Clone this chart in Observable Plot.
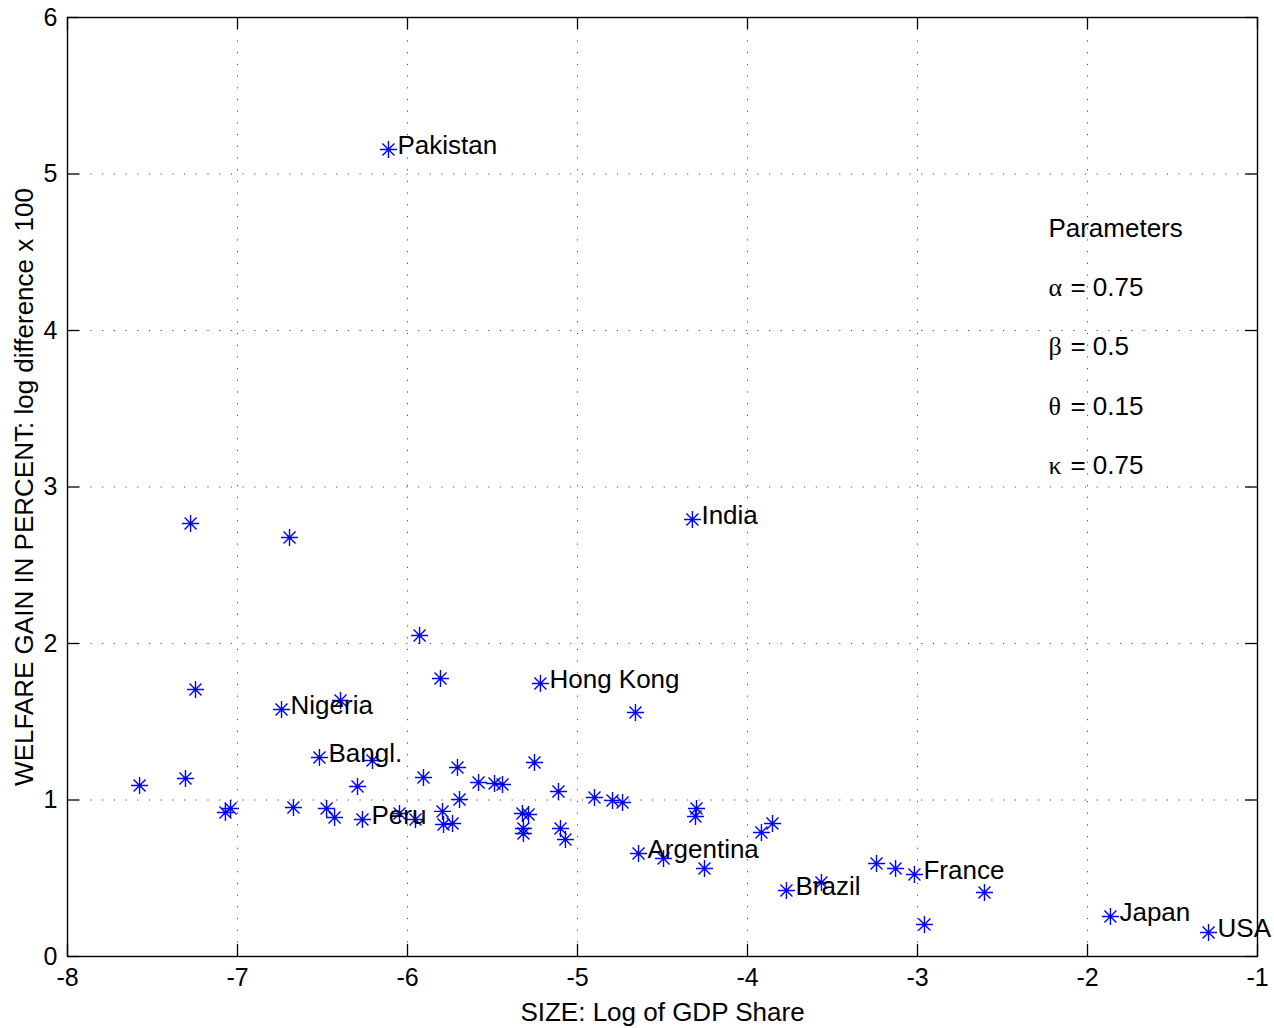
<!DOCTYPE html>
<html>
<head>
<meta charset="utf-8">
<script src="https://cdn.jsdelivr.net/npm/d3@7"></script>
<script src="https://cdn.jsdelivr.net/npm/@observablehq/plot@0.6"></script>
<style>
  html, body { margin: 0; padding: 0; background: #fff; }
  svg { display: block; }
</style>
</head>
<body>
<div id="chart"></div>
<script>
// ---- data ----
const countryNames = [
  "Pakistan", "India", "", "", "", "", "Hong Kong", "", "", "Nigeria",
  "", "Bangl.", "", "", "", "", "", "", "", "",
  "", "Peru", "", "", "", "", "", "", "", "",
  "", "", "", "", "", "", "", "", "", "",
  "", "", "", "", "", "", "Argentina", "", "",
  "", "", "Brazil", "", "", "", "France", "", "", "Japan",
  "USA"
];
const sizeLog = [
  -6.112, -4.324, -7.276, -6.694, -5.929, -5.806, -5.218, -7.247, -4.659, -6.741,
  -6.394, -6.518, -6.206, -7.576, -7.306, -7.071, -7.041, -6.671, -6.476, -6.429,
  -6.294, -6.265, -6.047, -5.953, -5.906, -5.794, -5.788, -5.735, -5.694, -5.706,
  -5.582, -5.488, -5.441, -5.253, -5.324, -5.288, -5.318, -5.318, -5.112, -5.100,
  -5.071, -4.900, -4.794, -4.735, -4.300, -4.306, -4.641, -4.494, -4.253,
  -3.918, -3.853, -3.771, -3.565, -3.241, -3.129, -3.018, -2.959, -2.606, -1.865,
  -1.288
];
const welfareGain = [
  5.157, 2.792, 2.767, 2.677, 2.051, 1.776, 1.744, 1.706, 1.559, 1.578,
  1.636, 1.272, 1.252, 1.093, 1.137, 0.920, 0.946, 0.952, 0.946, 0.888,
  1.086, 0.875, 0.914, 0.875, 1.144, 0.927, 0.843, 0.850, 1.003, 1.208,
  1.112, 1.105, 1.099, 1.240, 0.914, 0.907, 0.818, 0.786, 1.054, 0.818,
  0.748, 1.016, 0.997, 0.984, 0.946, 0.895, 0.658, 0.626, 0.562,
  0.792, 0.850, 0.422, 0.473, 0.594, 0.562, 0.524, 0.204, 0.409, 0.256,
  0.153
];
const xTicks = [-8, -7, -6, -5, -4, -3, -2, -1];
const yTicks = [0, 1, 2, 3, 4, 5, 6];
const xLabel = "SIZE: Log of GDP Share";
const yLabel = "WELFARE GAIN IN PERCENT: log difference x 100";
const paramTitle = "Parameters";
const paramSymbols = ["α", "β", "θ", "κ"];
const paramValues = ["0.75", "0.5", "0.15", "0.75"];

const points = sizeLog.map((x, i) => ({x, y: welfareGain[i], name: countryNames[i] || ""}));

// ---- annotation layout (data coords, as in the original text() calls) ----
const paramX = -2.23;
const paramTop = 4.65;
const paramStep = 0.378;
const titleRow = [{label: paramTitle, y: paramTop}];
const paramRows = paramSymbols.map((s, i) => ({label: "= " + paramValues[i], sym: s, y: paramTop - (i + 1) * paramStep}));

// MATLAB-style '*' marker: plus + cross
const matlabStar = {
  draw(context, size) {
    const r = Math.sqrt(size / Math.PI);
    const d = r * Math.SQRT1_2;
    context.moveTo(0, -r); context.lineTo(0, r);
    context.moveTo(-r, 0); context.lineTo(r, 0);
    context.moveTo(-d, -d); context.lineTo(d, d);
    context.moveTo(-d, d); context.lineTo(d, -d);
  }
};

const W = 1274, H = 1028;
const mL = 67, mR = 17, mT = 17, mB = 72;
const frameW = W - mL - mR, frameH = H - mT - mB;
const tickLen = 12;
const sans = "'Liberation Sans', Arial, Helvetica, sans-serif";
const serif = "'Liberation Serif', 'Times New Roman', serif";

const chart = Plot.plot({
  width: W,
  height: H,
  marginLeft: mL,
  marginRight: mR,
  marginTop: mT,
  marginBottom: mB,
  style: {fontFamily: sans, fontSize: "25px", background: "#fff", color: "#000", overflow: "visible"},
  x: {domain: [-8, -1], axis: null},
  y: {domain: [0, 6], axis: null},
  marks: [
    // dotted grid
    Plot.ruleX(xTicks, {x: d => d, stroke: "#000", strokeOpacity: 0.7, strokeWidth: 1, strokeDasharray: "1.2,10.5"}),
    Plot.ruleY(yTicks, {y: d => d, stroke: "#000", strokeOpacity: 0.7, strokeWidth: 1, strokeDasharray: "1.2,10.5"}),
    // inward ticks on all four sides
    Plot.tickX(xTicks, {x: d => d, insetTop: frameH - tickLen, stroke: "#000", strokeWidth: 1.3}),
    Plot.tickX(xTicks, {x: d => d, insetBottom: frameH - tickLen, stroke: "#000", strokeWidth: 1.3}),
    Plot.tickY(yTicks, {y: d => d, insetRight: frameW - tickLen, stroke: "#000", strokeWidth: 1.3}),
    Plot.tickY(yTicks, {y: d => d, insetLeft: frameW - tickLen, stroke: "#000", strokeWidth: 1.3}),
    Plot.frame({stroke: "#000", strokeWidth: 1.4}),
    // tick labels
    Plot.text(xTicks, {x: d => d, frameAnchor: "bottom", dy: 21, lineAnchor: "middle", text: d => String(d), fontSize: 25, fill: "#000"}),
    Plot.text(yTicks, {y: d => d, frameAnchor: "left", dx: -10, textAnchor: "end", lineAnchor: "middle", text: d => String(d), fontSize: 25, fill: "#000"}),
    // axis titles
    Plot.text([xLabel], {frameAnchor: "bottom", dy: 56, lineAnchor: "middle", textAnchor: "middle", text: d => d, fontSize: 26, fill: "#000"}),
    Plot.text([yLabel], {frameAnchor: "left", dx: -43, rotate: -90, lineAnchor: "middle", textAnchor: "middle", text: d => d, fontSize: 26, fill: "#000"}),
    // points
    Plot.dot(points, {x: "x", y: "y", symbol: matlabStar, r: 8.5, stroke: "#0000ff", strokeWidth: 1.4, fill: "none"}),
    // country labels
    Plot.text(points.filter(d => d.name), {x: "x", y: "y", text: "name", dx: 9, dy: -4, textAnchor: "start", lineAnchor: "middle", fontSize: 26, fill: "#000"}),
    // parameter box
    Plot.text(titleRow, {x: () => paramX, y: "y", text: "label", textAnchor: "start", lineAnchor: "middle", fontSize: 26, fill: "#000"}),
    Plot.text(paramRows, {x: () => paramX, y: "y", text: "sym", textAnchor: "start", lineAnchor: "middle", fontSize: 26, fontFamily: serif, fill: "#000"}),
    Plot.text(paramRows, {x: () => paramX, y: "y", text: "label", dx: 22, textAnchor: "start", lineAnchor: "middle", fontSize: 26, fill: "#000"})
  ]
});

document.getElementById("chart").appendChild(chart);
</script>
</body>
</html>
